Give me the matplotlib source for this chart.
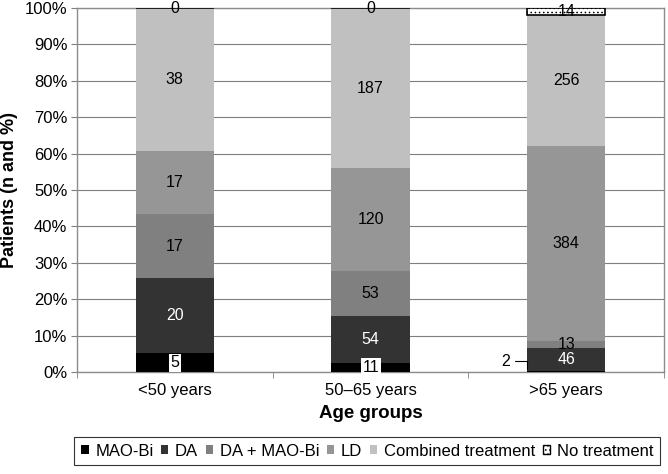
#!/usr/bin/env python3

import numpy as np
import matplotlib
matplotlib.use("Agg")
import matplotlib.pyplot as plt
from matplotlib.patches import Patch

plt.rcParams["font.family"] = ["Liberation Sans", "DejaVu Sans"]
plt.rcParams["hatch.linewidth"] = 0.6

categories = ["<50 years", "50\u201365 years", ">65 years"]
series_names = ["MAO-Bi", "DA", "DA + MAO-Bi", "LD", "Combined treatment", "No treatment"]
mao_bi = [5, 11, 2]
da = [20, 54, 46]
da_mao_bi = [17, 53, 13]
ld = [17, 120, 384]
combined = [38, 187, 256]
no_treatment = [0, 0, 14]

colors = ["#000000", "#333333", "#808080", "#969696", "#c0c0c0", "#ffffff"]
text_colors = ["white", "white", "black", "black", "black", "black"]


def main() -> int:
    counts = np.array([mao_bi, da, da_mao_bi, ld, combined, no_treatment], dtype=float)
    totals = counts.sum(axis=0)
    shares = counts / totals * 100

    fig = plt.figure(figsize=(6.68, 4.74), dpi=100)
    ax = fig.add_axes([0.1153, 0.215, 0.879, 0.768])

    x = np.arange(len(categories))
    bottom = np.zeros(len(categories))
    for i, name in enumerate(series_names):
        if name == "No treatment":
            ax.bar(x, shares[i], 0.4, bottom=bottom, color="white", edgecolor="black",
                   linewidth=1.2, hatch="....", zorder=3)
        else:
            ax.bar(x, shares[i], 0.4, bottom=bottom, color=colors[i], linewidth=0, zorder=3)

        for j in range(len(categories)):
            n = int(counts[i, j])
            mid = bottom[j] + shares[i, j] / 2
            if name == "MAO-Bi" and shares[i, j] < 1:
                ax.annotate(str(n), xy=(x[j] - 0.2, 0), xytext=(x[j] - 0.29, mid + 2.8),
                            ha="right", va="center", fontsize=11.5, zorder=5,
                            arrowprops=dict(arrowstyle="-", color="black", lw=0.8,
                                            connectionstyle="angle,angleA=0,angleB=90,rad=0"))
            elif name == "MAO-Bi":
                ax.text(x[j], mid, str(n), ha="center", va="center", fontsize=11.5, zorder=5,
                        color="black",
                        bbox=dict(boxstyle="square,pad=0.1", facecolor="white", edgecolor="none"))
            else:
                ax.text(x[j], mid, str(n), ha="center", va="center", fontsize=11.5, zorder=5,
                        color=text_colors[i])
        bottom += shares[i]

    ax.set_xlim(-0.5, 2.5)
    ax.set_ylim(0, 100)
    ax.set_yticks(np.arange(0, 101, 10))
    ax.set_yticklabels([f"{v}%" for v in range(0, 101, 10)], fontsize=12)
    ax.set_xticks(x)
    ax.set_xticklabels(categories, fontsize=12)
    ax.tick_params(axis="x", which="major", length=0, pad=8)
    ax.set_xticks([-0.5, 0.5, 1.5, 2.5], minor=True)
    ax.tick_params(axis="x", which="minor", length=4, color="#808080")
    ax.tick_params(axis="y", length=4, color="#808080", pad=3)
    ax.yaxis.grid(True, color="#7f7f7f", linewidth=0.8, zorder=0)
    ax.set_axisbelow(True)
    for spine in ax.spines.values():
        spine.set_color("#8c8c8c")
        spine.set_linewidth(1.0)

    ax.set_ylabel("Patients (n and %)", fontsize=13, fontweight="bold", labelpad=5)
    ax.set_xlabel("Age groups", fontsize=13.5, fontweight="bold", labelpad=5)

    handles = []
    for i, name in enumerate(series_names):
        if name == "No treatment":
            handles.append(Patch(facecolor="white", edgecolor="black", hatch="....", label=name))
        else:
            handles.append(Patch(facecolor=colors[i], edgecolor="none", label=name))
    leg = fig.legend(handles=handles, loc="center", bbox_to_anchor=(0.5497, 0.0485), ncol=6,
                     fontsize=12, frameon=True, fancybox=False, handlelength=0.45,
                     handleheight=0.45, handletextpad=0.4, columnspacing=0.45,
                     borderpad=0.4)
    leg.get_frame().set_edgecolor("black")
    leg.get_frame().set_linewidth(0.8)

    fig.savefig("out.png", dpi=100)
    plt.close(fig)
    return 0


if __name__ == "__main__":
    raise SystemExit(main())
